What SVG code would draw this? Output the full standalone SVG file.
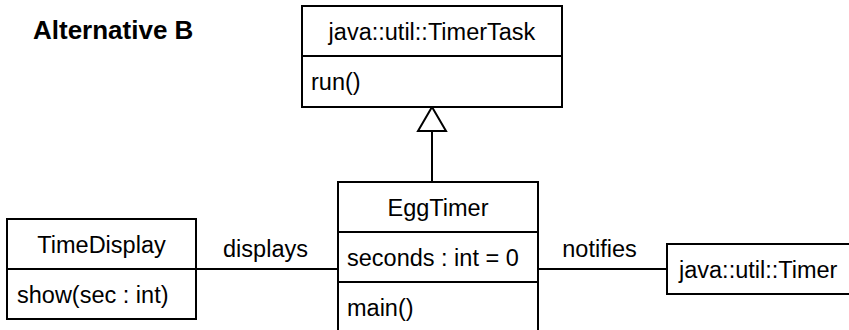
<svg xmlns="http://www.w3.org/2000/svg" width="849" height="330" viewBox="0 0 849 330">
<style>
.box{fill:#fff;stroke:#000;stroke-width:2}
.ln{fill:none;stroke:#000;stroke-width:2}
.t{font-family:"Liberation Sans",Arial,sans-serif;font-size:23.5px;fill:#000}
.c{text-anchor:middle}
.title{font-family:"Liberation Sans",Arial,sans-serif;font-size:26px;font-weight:bold;fill:#000}
</style>
<rect width="849" height="330" fill="#fff"/>
<text class="title" x="33" y="39">Alternative B</text>
<g id="connectors">
<line class="ln" x1="432" y1="131" x2="432" y2="182"/>
<polygon class="box" points="432,107 446,131 418,131"/>
<line class="ln" x1="196" y1="269" x2="338" y2="269"/>
<text class="t c" x="265.5" y="257">displays</text>
<line class="ln" x1="538" y1="269" x2="667" y2="269"/>
<text class="t c" x="599.5" y="257">notifies</text>
</g>
<g id="TimerTask">
<rect class="box" x="302" y="6" width="260" height="101"/>
<line class="ln" x1="302" y1="56" x2="562" y2="56"/>
<text class="t c" x="432" y="39.5">java::util::TimerTask</text>
<text class="t" x="311" y="89.5">run()</text>
</g>
<g id="EggTimer">
<rect class="box" x="338" y="182" width="200" height="152"/>
<line class="ln" x1="338" y1="232" x2="538" y2="232"/>
<line class="ln" x1="338" y1="282" x2="538" y2="282"/>
<text class="t c" x="438" y="215.5">EggTimer</text>
<text class="t" x="347" y="265.5">seconds : int = 0</text>
<text class="t" x="347" y="315.5">main()</text>
</g>
<g id="TimeDisplay">
<rect class="box" x="7" y="219" width="189" height="100"/>
<line class="ln" x1="7" y1="269" x2="196" y2="269"/>
<text class="t c" x="101.5" y="252.5">TimeDisplay</text>
<text class="t" x="17" y="302.5">show(sec : int)</text>
</g>
<g id="Timer">
<rect class="box" x="667" y="244" width="190" height="50"/>
<text class="t" x="679" y="277.5">java::util::Timer</text>
</g>
</svg>
